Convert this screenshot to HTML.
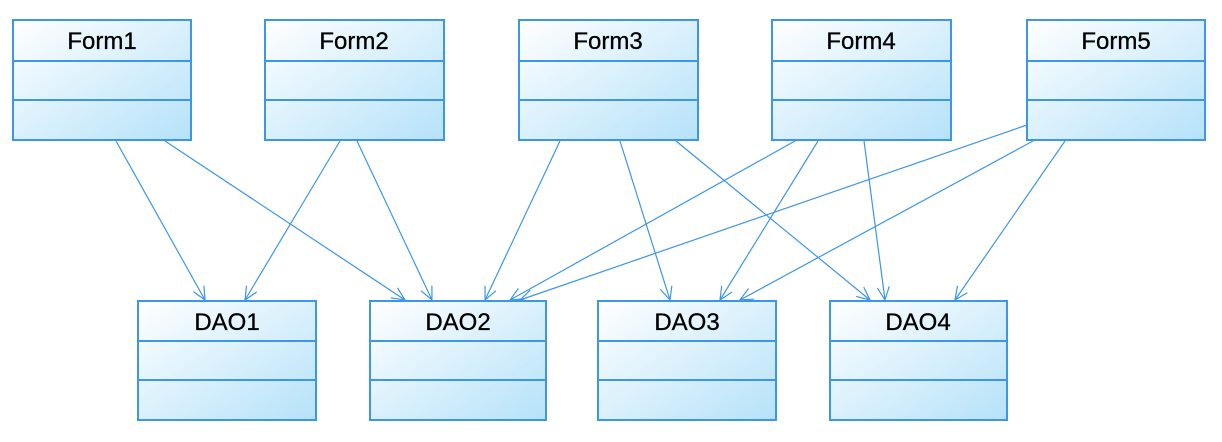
<!DOCTYPE html>
<html><head><meta charset="utf-8"><style>
html,body{margin:0;padding:0;background:#fff;width:1222px;height:442px;overflow:hidden}
</style></head><body>
<svg width="1222" height="442" xmlns="http://www.w3.org/2000/svg">
<defs>
<linearGradient id="g" x1="0" y1="0" x2="1" y2="1">
<stop offset="0" stop-color="#ffffff"/><stop offset="1" stop-color="#b5e2f9"/>
</linearGradient>
<marker id="a" markerWidth="16" markerHeight="16" refX="14" refY="8" orient="auto" markerUnits="userSpaceOnUse">
<path d="M1,2 L14,8 L1,14" fill="none" stroke="#3d96e6" stroke-width="1.2"/>
</marker>
</defs>
<g fill="url(#g)" stroke="#3d96e6" stroke-width="2">
<rect x="13" y="20" width="178" height="120"/><line x1="13" y1="61" x2="191" y2="61"/><line x1="13" y1="100" x2="191" y2="100"/>
<rect x="265" y="20" width="179" height="120"/><line x1="265" y1="61" x2="444" y2="61"/><line x1="265" y1="100" x2="444" y2="100"/>
<rect x="519" y="20" width="179" height="120"/><line x1="519" y1="61" x2="698" y2="61"/><line x1="519" y1="100" x2="698" y2="100"/>
<rect x="772" y="20" width="179" height="120"/><line x1="772" y1="61" x2="951" y2="61"/><line x1="772" y1="100" x2="951" y2="100"/>
<rect x="1027" y="20" width="178" height="120"/><line x1="1027" y1="61" x2="1205" y2="61"/><line x1="1027" y1="100" x2="1205" y2="100"/>
<rect x="138" y="301" width="178" height="119"/><line x1="138" y1="341" x2="316" y2="341"/><line x1="138" y1="380" x2="316" y2="380"/>
<rect x="370" y="301" width="176" height="119"/><line x1="370" y1="341" x2="546" y2="341"/><line x1="370" y1="380" x2="546" y2="380"/>
<rect x="598" y="301" width="178" height="119"/><line x1="598" y1="341" x2="776" y2="341"/><line x1="598" y1="380" x2="776" y2="380"/>
<rect x="830" y="301" width="177" height="119"/><line x1="830" y1="341" x2="1007" y2="341"/><line x1="830" y1="380" x2="1007" y2="380"/>
</g>
<g stroke="#3d96e6" stroke-width="1.2" fill="none" marker-end="url(#a)">
<line x1="116" y1="141" x2="205" y2="300"/>
<line x1="165" y1="141" x2="405" y2="300"/>
<line x1="340" y1="141" x2="245" y2="300"/>
<line x1="357" y1="141" x2="432" y2="300"/>
<line x1="560" y1="141" x2="485" y2="300"/>
<line x1="620" y1="141" x2="670" y2="300"/>
<line x1="676" y1="141" x2="870" y2="300"/>
<line x1="795" y1="141" x2="510" y2="300"/>
<line x1="818" y1="141" x2="720" y2="300"/>
<line x1="864" y1="141" x2="885" y2="300"/>
<line x1="1027" y1="125" x2="520" y2="300"/>
<line x1="1033" y1="141" x2="740" y2="300"/>
<line x1="1065" y1="141" x2="955" y2="300"/>
</g>
<g font-family="Liberation Sans, Arial, sans-serif" font-size="24" fill="#000" text-anchor="middle" stroke="#000" stroke-width="0.3">
<text x="102" y="49">Form1</text>
<text x="354" y="49">Form2</text>
<text x="608" y="49">Form3</text>
<text x="861" y="49">Form4</text>
<text x="1116" y="49">Form5</text>
<text x="227" y="330">DAO1</text>
<text x="458" y="330">DAO2</text>
<text x="687" y="330">DAO3</text>
<text x="918" y="330">DAO4</text>
</g>
</svg>
</body></html>
